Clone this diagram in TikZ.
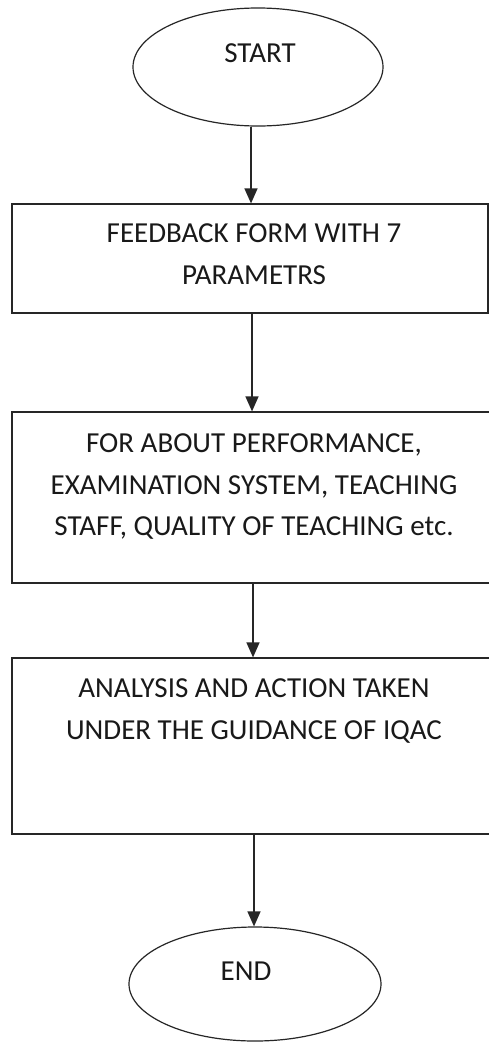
\documentclass[tikz,border=0pt]{standalone}
\usepackage{fontspec}
\setmainfont{Carlito}
\usetikzlibrary{shapes.geometric,arrows.meta}
\begin{document}
\begin{tikzpicture}[x=1pt,y=-1pt,
  line/.style={draw=black!85, line width=1.2pt},
  terminal/.style={ellipse, line, inner sep=0pt},
  stepbox/.style={rectangle, line, minimum width=476pt, inner sep=0pt},
  txt/.style={font=\fontsize{29}{41.5}\selectfont, text=black!90, align=center, inner sep=0pt},
  mtxt/.style={txt, anchor=north},
  flow/.style={line, -{Triangle[width=13pt,length=15pt]}}]
\useasboundingbox (0,0) rectangle (489,1042);
\fill[white] (0,0) rectangle (489,1042);
% shapes
\node[terminal, minimum width=250pt, minimum height=118pt,
      label={[txt, xshift=2pt, yshift=14pt]center:START}] (start) at (258,67) {};
\node[stepbox, minimum height=109pt,
      label={[mtxt, xshift=4pt, yshift=-20.5pt]north:FEEDBACK FORM WITH 7\\PARAMETRS}] (b1) at (250,258.5) {};
\node[stepbox, minimum width=479pt, minimum height=171pt,
      label={[mtxt, xshift=2.5pt, yshift=-22.5pt]north:FOR ABOUT PERFORMANCE,\\EXAMINATION SYSTEM, TEACHING\\STAFF, QUALITY OF TEACHING etc.}] (b2) at (251.5,497.5) {};
\node[stepbox, minimum width=479pt, minimum height=176pt,
      label={[mtxt, xshift=2.5pt, yshift=-21.5pt]north:ANALYSIS AND ACTION TAKEN\\UNDER THE GUIDANCE OF IQAC}] (b3) at (251.5,746) {};
\node[terminal, minimum width=252pt, minimum height=114pt,
      label={[txt, xshift=-9pt, yshift=13pt]center:END}] (end) at (255,984) {};
% arrow columns
\coordinate (a1) at (251,0);
\coordinate (a2) at (252,0);
\coordinate (a3) at (253,0);
\coordinate (a4) at (254,0);
\draw[flow] (start.south -| a1) -- (b1.north -| a1);
\draw[flow] (b1.south -| a2) -- (b2.north -| a2);
\draw[flow] (b2.south -| a3) -- (b3.north -| a3);
\draw[flow] (b3.south -| a4) -- (end.north -| a4);
\end{tikzpicture}
\end{document}
